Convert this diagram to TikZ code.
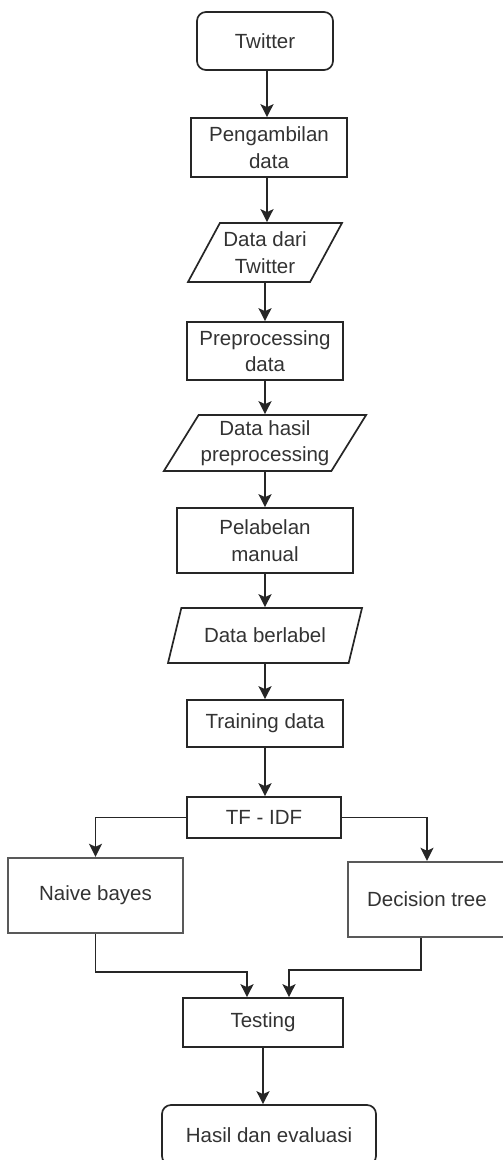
\documentclass[tikz,border=0pt]{standalone}
\usepackage{fontspec}
\setmainfont{Liberation Sans}
\usetikzlibrary{shapes.geometric, arrows.meta, calc}
\tikzset{
  procBox/.style={
    draw=black!85,
    line width=1.7pt,
    fill=white,
    align=center,
    inner sep=2pt,
    font=\fontsize{20.5}{26.5}\selectfont\color{black!80}
  },
  termBox/.style={
    procBox,
    rounded corners=9pt
  },
  dataBox/.style={
    procBox,
    trapezium,
    trapezium left angle=55,
    trapezium right angle=125,
    trapezium stretches body
  },
  modelBox/.style={
    procBox,
    draw=black!65,
    line width=2.4pt
  },
  flowArrow/.style={
    -{Stealth[length=13pt,width=13pt,inset=3pt]},
    line width=1.8pt,
    draw=black!85
  }
}
\begin{document}
\begin{tikzpicture}[x=1pt, y=-1pt]
  \useasboundingbox (0,0) rectangle (503,1160);
  % main column
  \node[termBox, minimum width=136pt, minimum height=58pt] (twitter) at (265,41) {Twitter};
  \node[procBox, minimum width=156pt, minimum height=59pt] (ambil) at (269,147.5) {Pengambilan\\data};
  \node[dataBox, minimum width=154pt, minimum height=59pt] (dataTw) at (265,252.5) {Data dari\\Twitter};
  \node[procBox, minimum width=156pt, minimum height=58pt] (prepro) at (265,351) {Preprocessing\\data};
  \node[dataBox, minimum width=194pt, minimum height=56pt] (dataPre) at (265,443) {Data hasil\\preprocessing};
  \node[procBox, minimum width=176pt, minimum height=65pt] (label) at (265,540.5) {Pelabelan\\manual};
  \node[dataBox, minimum width=194pt, minimum height=55pt] (dataLbl) at (265,635.5) {Data berlabel};
  \node[procBox, minimum width=156pt, minimum height=47pt] (training) at (265,723.5) {Training data};
  \node[procBox, minimum width=154pt, minimum height=41pt] (tfidf) at (264,817.5) {TF - IDF};
  % two models
  \node[modelBox, minimum width=175pt, minimum height=75pt] (naive) at (95.5,895.5) {Naive bayes};
  \node[modelBox, minimum width=158pt, minimum height=75pt] (decision) at (427,899.5) {Decision tree};
  % evaluation
  \node[procBox, minimum width=160pt, minimum height=49pt] (testing) at (263,1022.5) {Testing};
  \node[termBox, minimum width=214pt, minimum height=60pt] (hasil) at (269,1135) {Hasil dan evaluasi};

  \draw[flowArrow] ([xshift=2pt]twitter.south) -- ([xshift=2pt]twitter.south |- ambil.north);
  \draw[flowArrow] ([xshift=-2pt]ambil.south) -- ([xshift=-2pt]ambil.south |- dataTw.north);
  \draw[flowArrow] (dataTw.south) -- (prepro.north);
  \draw[flowArrow] (prepro.south) -- (dataPre.north);
  \draw[flowArrow] (dataPre.south) -- (label.north);
  \draw[flowArrow] (label.south) -- (dataLbl.north);
  \draw[flowArrow] (dataLbl.south) -- (training.north);
  \draw[flowArrow] (training.south) -- (training.south |- tfidf.north);
  \draw[flowArrow] (tfidf.west) -| (naive.north);
  \draw[flowArrow] (tfidf.east) -| (decision.north);
  \draw[flowArrow] (naive.south) -- ++(0,38) -| ([xshift=-16pt]testing.north);
  \draw[flowArrow] ([xshift=-6pt]decision.south) -- ++(0,32) -| ([xshift=26pt]testing.north);
  \draw[flowArrow] (testing.south) -- (testing.south |- hasil.north);
\end{tikzpicture}
\end{document}
